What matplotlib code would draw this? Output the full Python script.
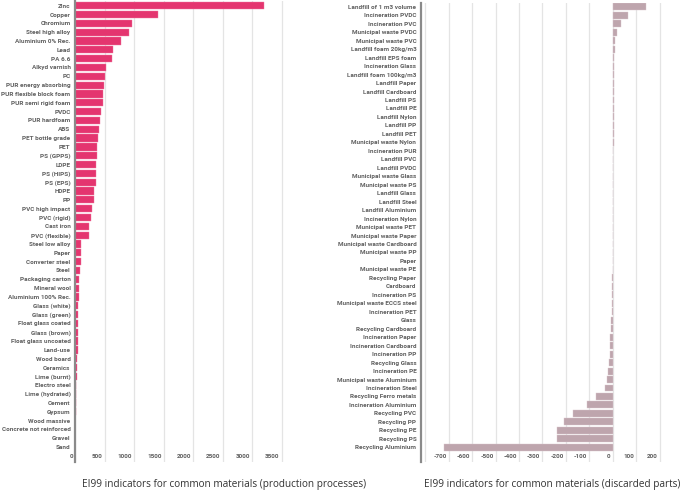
import matplotlib
matplotlib.use("Agg")
import matplotlib.pyplot as plt
import matplotlib.transforms as mtransforms

# ---------------- data ----------------
prod_materials = [
    "Zinc", "Copper", "Chromium", "Steel high alloy", "Aluminium 0% Rec.", "Lead", "PA 6.6",
    "Alkyd varnish", "PC", "PUR energy absorbing", "PUR flexible block foam", "PUR semi rigid foam",
    "PVDC", "PUR hardfoam", "ABS", "PET bottle grade", "PET", "PS (GPPS)", "LDPE", "PS (HIPS)",
    "PS (EPS)", "HDPE", "PP", "PVC high impact", "PVC (rigid)", "Cast iron", "PVC (flexible)",
    "Steel low alloy", "Paper", "Converter steel", "Steel", "Packaging carton", "Mineral wool",
    "Aluminium 100% Rec.", "Glass (white)", "Glass (green)", "Float glass coated", "Glass (brown)",
    "Float glass uncoated", "Land-use", "Wood board", "Ceramics", "Lime (burnt)", "Electro steel",
    "Lime (hydrated)", "Cement", "Gypsum", "Wood massive", "Concrete not reinforced", "Gravel", "Sand",
]
prod_values = [
    3200, 1400, 970, 910, 780, 640, 630,
    520, 510, 490, 480, 480,
    440, 420, 400, 390, 380, 370, 360, 360,
    360, 330, 330, 280, 270, 240, 240,
    110, 96, 94, 86, 69, 65,
    60, 58, 55, 54, 51,
    49, 45, 39, 30, 29, 24,
    22, 20, 12, 7, 4, 0.84, 0.82,
]
prod_ticks = [0, 500, 1000, 1500, 2000, 2500, 3000, 3500]

disc_items = [
    "Landfill of 1 m3 volume", "Incineration PVDC", "Incineration PVC", "Municipal waste PVDC",
    "Municipal waste PVC", "Landfill foam 20kg/m3", "Landfill EPS foam", "Incineration Glass",
    "Landfill foam 100kg/m3", "Landfill Paper", "Landfill Cardboard", "Landfill PS", "Landfill PE",
    "Landfill Nylon", "Landfill PP", "Landfill PET", "Municipal waste Nylon", "Incineration PUR",
    "Landfill PVC", "Landfill PVDC", "Municipal waste Glass", "Municipal waste PS", "Landfill Glass",
    "Landfill Steel", "Landfill Aluminium", "Incineration Nylon", "Municipal waste PET",
    "Municipal waste Paper", "Municipal waste Cardboard", "Municipal waste PP", "Paper",
    "Municipal waste PE", "Recycling Paper", "Cardboard", "Incineration PS",
    "Municipal waste ECCS steel", "Incineration PET", "Glass", "Recycling Cardboard",
    "Incineration Paper", "Incineration Cardboard", "Incineration PP", "Recycling Glass",
    "Incineration PE", "Municipal waste Aluminium", "Incineration Steel", "Recycling Ferro metals",
    "Incineration Aluminium", "Recycling PVC", "Recycling PP", "Recycling PE", "Recycling PS",
    "Recycling Aluminium",
]
disc_values = [
    140, 66, 37, 17,
    11, 9, 7, 5,
    4, 3.6, 3.6, 3.6, 3.5,
    3.5, 3.5, 3.5, 3.3, 2.8,
    2.5, 2.4, 2.2, 2.0, 1.4,
    1.4, 1.4, 1.2, 1.0,
    0.8, 0.6, 0.3, 0.1,
    -0.5, -1.3, -2.0, -3.0,
    -4.0, -4.5, -6.0, -8.0,
    -11, -12, -13, -15,
    -19, -23, -32, -70,
    -110, -170, -210, -240, -240,
    -720,
]
disc_ticks = [-800, -700, -600, -500, -400, -300, -200, -100, 0, 100, 200]
disc_ticklabels = ["", "-700", "-600", "-500", "-400", "-300", "-200", "-100", "0", "100", "200"]

caption_left = "EI99 indicators for common materials (production processes)"
caption_right = "EI99 indicators for common materials (discarded parts)"

# ---------------- style ----------------
W, H = 685, 493
DPI = 100
fig = plt.figure(figsize=(W / DPI, H / DPI), dpi=DPI)
fig.patch.set_facecolor("white")

LABEL_FONT = dict(family=["Roboto", "DejaVu Sans"], fontweight="bold", color="#606060")
GRID_C = "#e4e4e4"
AXIS_C = "#8a8a8a"


def px_axes(left, top, right, bottom):
    return fig.add_axes([left / W, 1 - bottom / H, (right - left) / W, (bottom - top) / H])


def style(ax, ylabels, ticks, ticklabels, fs):
    for s in ["top", "right", "bottom"]:
        ax.spines[s].set_visible(False)
    ax.spines["left"].set_color(AXIS_C)
    ax.spines["left"].set_linewidth(1.6)
    ax.set_axisbelow(True)
    ax.xaxis.grid(True, color=GRID_C, linewidth=0.9)
    ax.yaxis.grid(False)
    ax.set_yticks(range(len(ylabels)))
    ax.set_yticklabels(ylabels, fontsize=fs, **LABEL_FONT)
    ax.tick_params(axis="y", length=0, pad=3.2)
    ax.set_xticks(ticks)
    ax.set_xticklabels(ticklabels, fontsize=fs, **LABEL_FONT)
    ax.tick_params(axis="x", length=0, direction="in", pad=-6.0)
    off = mtransforms.ScaledTranslation(-2 / DPI, 0, fig.dpi_scale_trans)
    for lab in ax.get_xticklabels():
        lab.set_horizontalalignment("right")
        lab.set_transform(lab.get_transform() + off)


# left chart
axL = px_axes(75, 1.3, 284.5, 462)
axL.barh(range(len(prod_materials)), prod_values, height=0.82, color="#e4356f",
         edgecolor="#f07aa0", linewidth=0.3)
axL.set_xlim(0, 3550)
axL.set_ylim(len(prod_materials) - 1 + 1.7, -0.5)
style(axL, prod_materials, prod_ticks, [str(t) for t in prod_ticks], 4.6)

# right chart
axR = px_axes(420.7, 2.6, 676, 462)
axR.barh(range(len(disc_items)), disc_values, height=0.82, color="#bea5ad",
         edgecolor="#d9c6cc", linewidth=0.3)
axR.set_xlim(-820, 270)
axR.set_ylim(len(disc_items) - 1 + 1.74, -0.5)
style(axR, disc_items, disc_ticks, disc_ticklabels, 4.6)

CAP_FONT = dict(family=["Open Sans", "DejaVu Sans"], color="#333333", fontsize=7.2)
fig.text(224 / W, 1 - 484.5 / H, caption_left, ha="center", va="center", **CAP_FONT)
fig.text(552 / W, 1 - 484.5 / H, caption_right, ha="center", va="center", **CAP_FONT)

fig.savefig("out.png", dpi=DPI, facecolor="white")
